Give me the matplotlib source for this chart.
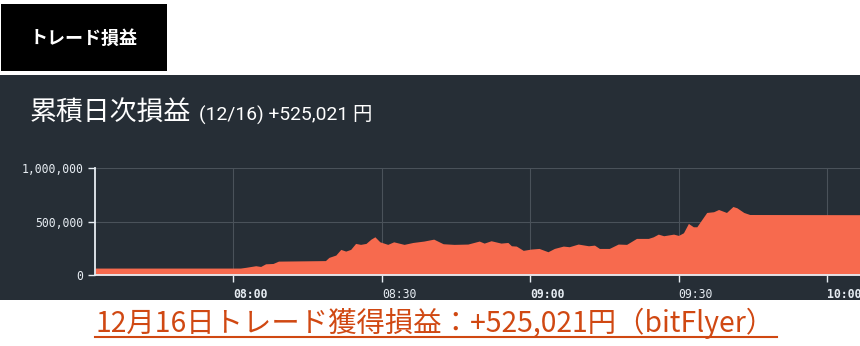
import matplotlib

matplotlib.use("Agg")
import matplotlib.pyplot as plt
from matplotlib.patches import Rectangle
from matplotlib.ticker import FuncFormatter

# minutes after 08:00 and cumulative daily P/L (JPY)
minutes = [
    -28, 1.4, 2.5, 4.5, 5.5, 6.5, 8, 9.1, 18.6, 19.3, 20.7, 21.7, 22.7, 23.7,
    24.7, 25.7, 26.8, 27.8, 28.6, 29.6, 31.2, 32.4, 34.5, 36.3, 38.5, 40.5,
    42.4, 44.6, 47.4, 49.7, 50.7, 52.1, 54.1, 55.5, 56.2, 57.2, 58.6, 60.2,
    61.8, 63.6, 64.9, 66.7, 67.9, 69.7, 71.8, 73, 74, 76, 77.8, 79.5, 81.5,
    83.9, 84.9, 85.9, 87, 89, 90, 91, 92, 93, 93.7, 95.7, 97.1, 98.1, 99.7,
    101, 101.8, 103.2, 104.4, 130,
]
pnl = [
    65000, 65000, 72000, 87000, 80000, 105000, 108000, 130000, 135000, 165000,
    187000, 240000, 224000, 240000, 296000, 287000, 296000, 336000, 358000,
    311000, 287000, 311000, 287000, 305000, 318000, 336000, 293000, 287000,
    290000, 318000, 299000, 321000, 299000, 305000, 274000, 271000, 231000,
    243000, 249000, 218000, 249000, 271000, 265000, 290000, 274000, 280000,
    249000, 249000, 290000, 287000, 343000, 343000, 358000, 383000, 368000,
    383000, 371000, 396000, 483000, 452000, 452000, 586000, 593000, 614000,
    586000, 642000, 630000, 586000, 567000, 565000,
]

tick_minutes = [0, 30, 60, 90, 120]
tick_labels = ["08:00", "08:30", "09:00", "09:30", "10:00"]
y_ticks = [0, 500000, 1000000]

PANEL = "#262e36"
FILL = "#f76a4e"
GRID = "#4a525a"
LIGHT = "#e6ecf2"
CAPTION = "#d04812"
JP = ["Noto Sans CJK JP", "DejaVu Sans"]

fig = plt.figure(figsize=(8.6, 3.46), dpi=100)
fig.patch.set_facecolor("white")

# dark panel and black header box
fig.patches.append(Rectangle((0, 46 / 346), 1, 225 / 346, transform=fig.transFigure,
                             facecolor=PANEL, edgecolor="none", zorder=-5))
fig.patches.append(Rectangle((1 / 860, 275 / 346), 166 / 860, 67 / 346, transform=fig.transFigure,
                             facecolor="black", edgecolor="none", zorder=-5))
fig.text(84 / 860, 1 - 38 / 346, "トレード損益", color="white", fontsize=13,
         fontweight="bold", family=JP, ha="center", va="center")

fig.text(30 / 860, 1 - 112 / 346, "累積日次損益", color="white", fontsize=19.4,
         family=JP, ha="left", va="center")
fig.text(199 / 860, 1 - 114 / 346, "(12/16) +525,021 円", color="white", fontsize=13.9,
         family=["Roboto", "Noto Sans CJK JP"], ha="left", va="center")

fig.text(96 / 860, 1 - 323 / 346, "12月16日トレード獲得損益：+525,021円（bitFlyer）",
         color=CAPTION, fontsize=20.4, family=JP, ha="left", va="center")
fig.add_artist(plt.Line2D([95 / 860, 777 / 860], [1 - 337 / 346] * 2,
                          transform=fig.transFigure, color=CAPTION, lw=1.5))

ax = fig.add_axes([95 / 860, 71 / 346, 765 / 860, 106.7 / 346])
ax.set_zorder(2)
ax.patch.set_alpha(0)
ax.fill_between(minutes, pnl, 0, color=FILL, lw=0, zorder=2)
ax.set_xlim(-28, 126.7)
ax.set_ylim(0, 1000000)

ax.set_xticks(tick_minutes)
ax.set_xticklabels(tick_labels)
ax.set_yticks(y_ticks)
ax.yaxis.set_major_formatter(FuncFormatter(lambda v, _: f"{int(v):,}"))
ax.tick_params(colors=LIGHT, labelcolor=LIGHT, length=5, width=1, labelsize=8.3)
ax.tick_params(axis="x", pad=4)
for lbl in ax.get_xticklabels():
    lbl.set_fontweight("bold" if lbl.get_text().endswith(":00") else "normal")
    lbl.set_horizontalalignment("left")
for lbl in ax.get_xticklabels() + ax.get_yticklabels():
    lbl.set_family("DejaVu Sans Mono")

ax.grid(color=GRID, lw=0.8, zorder=1)
ax.set_axisbelow(True)
for side in ("top", "right"):
    ax.spines[side].set_visible(False)
for side in ("left", "bottom"):
    ax.spines[side].set_color(LIGHT)
    ax.spines[side].set_linewidth(1.3)
    ax.spines[side].set_zorder(3)

fig.savefig("out.png", dpi=100, facecolor=fig.get_facecolor())
